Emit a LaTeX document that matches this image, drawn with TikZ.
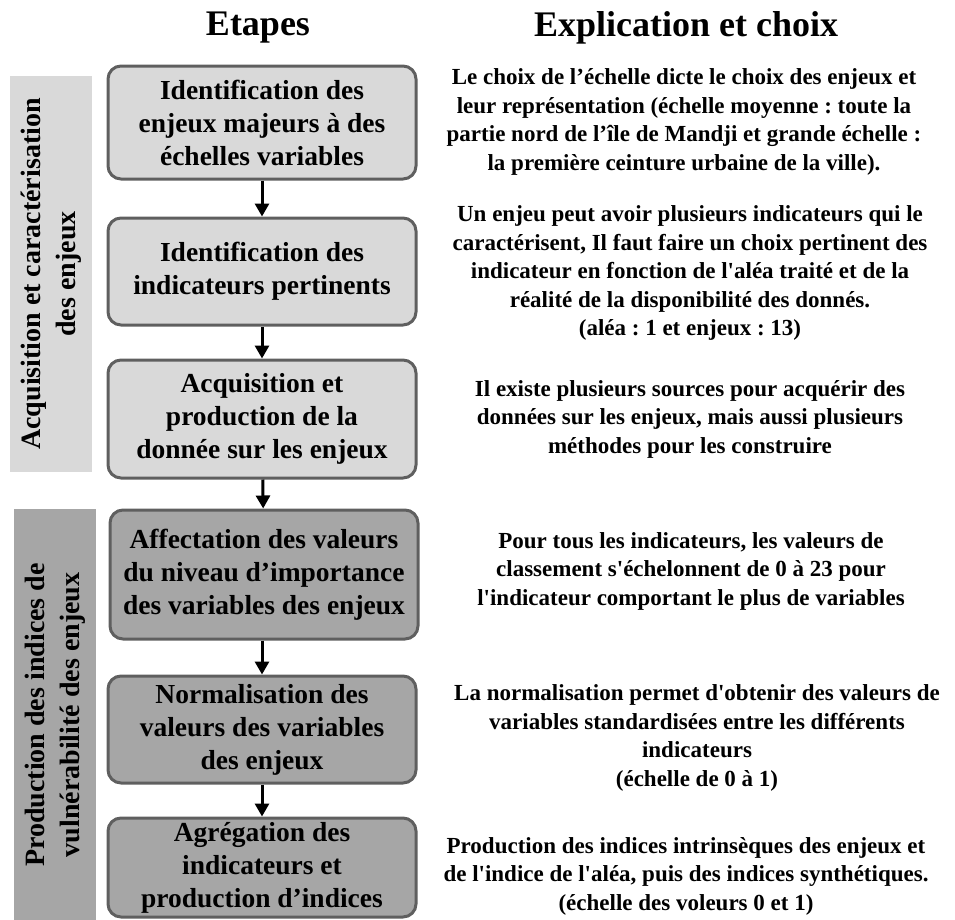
\documentclass[tikz,border=0pt]{standalone}
\usepackage{fontspec}
\setmainfont{Liberation Serif}
\usetikzlibrary{arrows.meta}
\definecolor{lightfill}{HTML}{D9D9D9}
\definecolor{darkfill}{HTML}{A6A6A6}
\definecolor{edgegray}{HTML}{5F5F5F}
\newcommand{\sq}{\textquotesingle}
\tikzset{
  x=1pt, y=-1pt,
  stepbox/.style={draw=edgegray, line width=3pt, rounded corners=13pt, align=center,
    inner sep=0pt, minimum width=308pt, font=\fontsize{27.5}{33}\selectfont\bfseries\frenchspacing},
  lightbox/.style={stepbox, fill=lightfill},
  darkbox/.style={stepbox, fill=darkfill},
  expl/.style={align=center, inner sep=0pt, font=\fontsize{23}{28.5}\selectfont\bfseries\frenchspacing},
  title/.style={inner sep=0pt, font=\fontsize{36}{40}\selectfont\bfseries},
  sidebar/.style={rotate=90, align=center, inner sep=0pt, minimum height=82pt,
    font=\fontsize{28}{35}\selectfont\bfseries},
  flow/.style={line width=3pt, -{Triangle[width=14pt,length=13pt]}}
}
\begin{document}
\begin{tikzpicture}
\useasboundingbox (0,0) rectangle (955,919);
% titles
\node[title] (t1) at (258,28) {Etapes};
\node[title] (t2) at (686,28) {Explication et choix};
% side bars
\node[sidebar, fill=lightfill, minimum width=396pt] (s1) at (51,274)
  {Acquisition et caractérisation\\des enjeux};
\node[sidebar, fill=darkfill, minimum width=412pt] (s2) at (55,715)
  {Production des indices de\\vulnérabilité des enjeux};
% boxes
\node[lightbox, minimum height=113pt] (b1) at (262,122.5)
  {Identification des\\enjeux majeurs à des\\échelles variables};
\node[lightbox, minimum height=107pt] (b2) at (262,271.5)
  {Identification des\\indicateurs pertinents};
\node[lightbox, minimum height=118pt] (b3) at (262,419)
  {Acquisition et\\production de la\\donnée sur les enjeux};
\node[darkbox, minimum height=129pt] (b4) at (264,574.5)
  {Affectation des valeurs\\du niveau d’importance\\des variables des enjeux};
\node[darkbox, minimum height=107pt] (b5) at (262,729.5)
  {Normalisation des\\valeurs des variables\\des enjeux};
\node[darkbox, minimum height=99pt] (b6) at (262,867.5)
  {Agrégation des\\indicateurs et\\production d’indices};
% arrows
\draw[flow] (b1) -- (b2);
\draw[flow] (b2) -- (b3);
\draw[flow] (b3) -- (b4);
\draw[flow] (b4.south -| b5) -- (b5);
\draw[flow] (b5) -- (b6);
% explanations
\node[expl] (e1) at (684,122)
  {Le choix de l’échelle dicte le choix des enjeux et\\leur représentation (échelle moyenne : toute la\\partie nord de l’île de Mandji et grande échelle :\\la première ceinture urbaine de la ville).};
\node[expl] (e2) at (690,273)
  {Un enjeu peut avoir plusieurs indicateurs qui le\\caractérisent, Il faut faire un choix pertinent des\\indicateur en fonction de l\sq aléa traité et de la\\réalité de la disponibilité des donnés.\\(aléa : 1 et enjeux : 13)};
\node[expl] (e3) at (690,419)
  {Il existe plusieurs sources pour acquérir des\\données sur les enjeux, mais aussi plusieurs\\méthodes pour les construire};
\node[expl] (e4) at (691,571)
  {Pour tous les indicateurs, les valeurs de\\classement s\sq échelonnent de 0 à 23 pour\\l\sq indicateur comportant le plus de variables};
\node[expl] (e5) at (697,738)
  {La normalisation permet d\sq obtenir des valeurs de\\variables standardisées entre les différents\\indicateurs\\(échelle de 0 à 1)};
\node[expl] (e6) at (686,876)
  {Production des indices intrinsèques des enjeux et\\de l\sq indice de l\sq aléa, puis des indices synthétiques.\\(échelle des voleurs 0 et 1)};
\end{tikzpicture}
\end{document}
